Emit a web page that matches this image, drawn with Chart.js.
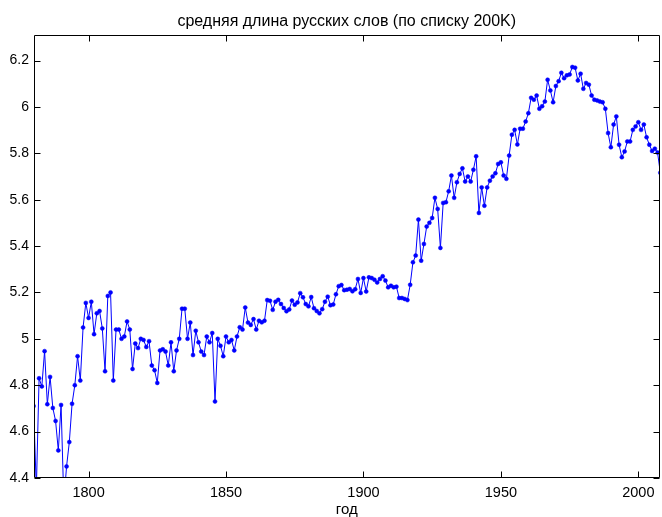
<!DOCTYPE html>
<html>
<head>
<meta charset="utf-8">
<script src="https://cdn.jsdelivr.net/npm/chart.js@4"></script>
<style>
html,body{margin:0;padding:0;background:#fff;}
#wrap{width:662px;height:517px;}
</style>
</head>
<body>
<div id="wrap"><canvas id="c" width="662" height="517"></canvas></div>
<script>
// ---- data ----
const years = [
  1780,1781,1782,1783,1784,1785,1786,1787,1788,1789,
  1790,1791,1792,1793,1794,1795,1796,1797,1798,1799,
  1800,1801,1802,1803,1804,1805,1806,1807,1808,1809,
  1810,1811,1812,1813,1814,1815,1816,1817,1818,1819,
  1820,1821,1822,1823,1824,1825,1826,1827,1828,1829,
  1830,1831,1832,1833,1834,1835,1836,1837,1838,1839,
  1840,1841,1842,1843,1844,1845,1846,1847,1848,1849,
  1850,1851,1852,1853,1854,1855,1856,1857,1858,1859,
  1860,1861,1862,1863,1864,1865,1866,1867,1868,1869,
  1870,1871,1872,1873,1874,1875,1876,1877,1878,1879,
  1880,1881,1882,1883,1884,1885,1886,1887,1888,1889,
  1890,1891,1892,1893,1894,1895,1896,1897,1898,1899,
  1900,1901,1902,1903,1904,1905,1906,1907,1908,1909,
  1910,1911,1912,1913,1914,1915,1916,1917,1918,1919,
  1920,1921,1922,1923,1924,1925,1926,1927,1928,1929,
  1930,1931,1932,1933,1934,1935,1936,1937,1938,1939,
  1940,1941,1942,1943,1944,1945,1946,1947,1948,1949,
  1950,1951,1952,1953,1954,1955,1956,1957,1958,1959,
  1960,1961,1962,1963,1964,1965,1966,1967,1968,1969,
  1970,1971,1972,1973,1974,1975,1976,1977,1978,1979,
  1980,1981,1982,1983,1984,1985,1986,1987,1988,1989,
  1990,1991,1992,1993,1994,1995,1996,1997,1998,1999,
  2000,2001,2002,2003,2004,2005,2006,2007,2008
];
const avgLength = [
  4.71,4.35,4.83,4.795,4.947,4.718,4.836,4.702,4.646,4.519,
  4.715,4.30,4.45,4.555,4.72,4.80,4.925,4.82,5.049,5.155,
  5.09,5.16,5.02,5.11,5.12,5.045,4.86,5.185,5.20,4.82,
  5.04,5.04,5.00,5.01,5.075,5.04,4.87,4.98,4.96,5.00,
  4.995,4.965,4.99,4.885,4.865,4.81,4.95,4.955,4.945,4.885,
  4.985,4.86,4.95,5.00,5.13,5.13,5.00,5.07,4.93,5.035,
  4.985,4.945,4.93,5.01,4.985,5.025,4.73,5.00,4.97,4.925,
  5.01,4.985,4.995,4.95,5.01,5.05,5.04,5.135,5.07,5.06,
  5.085,5.04,5.078,5.071,5.078,5.167,5.164,5.125,5.16,5.168,
  5.15,5.133,5.119,5.127,5.165,5.147,5.157,5.197,5.179,5.15,
  5.14,5.18,5.132,5.12,5.11,5.128,5.16,5.182,5.145,5.148,
  5.192,5.227,5.232,5.21,5.212,5.215,5.205,5.214,5.258,5.198,
  5.262,5.204,5.265,5.262,5.255,5.243,5.258,5.27,5.251,5.222,
  5.229,5.222,5.225,5.176,5.176,5.172,5.167,5.233,5.33,5.359,
  5.514,5.337,5.409,5.484,5.50,5.521,5.608,5.56,5.392,5.586,
  5.589,5.636,5.704,5.608,5.675,5.711,5.735,5.678,5.70,5.678,
  5.729,5.787,5.543,5.653,5.574,5.653,5.682,5.70,5.714,5.754,
  5.761,5.704,5.69,5.79,5.88,5.901,5.838,5.906,5.906,5.937,
  5.973,6.039,6.031,6.049,5.992,6.003,6.023,6.117,6.071,6.02,
  6.09,6.111,6.147,6.124,6.136,6.14,6.172,6.169,6.114,6.143,
  6.078,6.103,6.096,6.049,6.031,6.028,6.023,6.02,5.992,5.887,
  5.826,5.924,5.959,5.837,5.783,5.808,5.851,5.851,5.901,5.916,
  5.934,5.901,5.924,5.869,5.837,5.81,5.82,5.803,5.716
];
const xTickValues = [1800, 1850, 1900, 1950, 2000];
const yTickValues = [4.4, 4.6, 4.8, 5, 5.2, 5.4, 5.6, 5.8, 6, 6.2];
const xLimits = [1780.15, 2007.7];
const yLimits = [4.4, 6.31];
const chartTitle = 'средняя длина русских слов (по списку 200K)';
const xAxisTitle = 'год';

// ---- drawing ----
const FONT = '"Liberation Sans", Arial, Helvetica, sans-serif';
const TICK_LEN = 6;

const boxPlugin = {
  id: 'matlabBox',
  afterDraw(chart) {
    const {ctx, chartArea: a, scales} = chart;
    const L = Math.round(a.left) + 0.5, R = Math.round(a.right) - 0.5;
    const T = Math.round(a.top) + 0.5, B = Math.round(a.bottom) - 0.5;
    ctx.save();
    ctx.strokeStyle = '#000';
    ctx.lineWidth = 1;
    ctx.beginPath();
    ctx.rect(L, T, R - L, B - T);
    xTickValues.forEach(v => {
      const px = Math.round(scales.x.getPixelForValue(v)) + 0.5;
      ctx.moveTo(px, B); ctx.lineTo(px, B - TICK_LEN);
      ctx.moveTo(px, T); ctx.lineTo(px, T + TICK_LEN);
    });
    yTickValues.forEach(v => {
      const py = Math.round(scales.y.getPixelForValue(v)) + 0.5;
      ctx.moveTo(L, py); ctx.lineTo(L + TICK_LEN, py);
      ctx.moveTo(R, py); ctx.lineTo(R - TICK_LEN, py);
    });
    ctx.stroke();
    ctx.restore();
  }
};

new Chart(document.getElementById('c'), {
  type: 'line',
  data: {
    datasets: [{
      data: years.map((yr, i) => ({x: yr, y: avgLength[i]})),
      borderColor: '#0000ff',
      borderWidth: 1,
      pointRadius: 2,
      pointHoverRadius: 2,
      pointBackgroundColor: '#0000ff',
      pointBorderColor: '#0000ff',
      pointBorderWidth: 0.5,
      tension: 0,
      fill: false,
      clip: 0
    }]
  },
  options: {
    responsive: false,
    animation: false,
    devicePixelRatio: 1,
    events: [],
    layout: {padding: {left: 0, right: 1, top: 0, bottom: 0}},
    plugins: {
      legend: {display: false},
      tooltip: {enabled: false},
      title: {
        display: true,
        fullSize: false,
        text: chartTitle,
        color: '#000',
        font: {family: FONT, size: 16, weight: 'normal', lineHeight: 1.2},
        padding: {top: 12, bottom: 3.8}
      }
    },
    scales: {
      x: {
        type: 'linear',
        min: xLimits[0],
        max: xLimits[1],
        afterBuildTicks: s => { s.ticks = xTickValues.map(v => ({value: v})); },
        afterFit: s => { s.height = 39; },
        grid: {display: false, drawTicks: false},
        border: {display: false},
        ticks: {
          padding: 6, color: '#000', maxRotation: 0, autoSkip: false,
          font: {family: FONT, size: 14.5},
          callback: v => String(v)
        },
        title: {
          display: true, text: xAxisTitle, color: '#000',
          font: {family: FONT, size: 15, lineHeight: 1},
          padding: {top: 0, bottom: 0}
        }
      },
      y: {
        type: 'linear',
        min: yLimits[0],
        max: yLimits[1],
        afterBuildTicks: s => { s.ticks = yTickValues.map(v => ({value: v})); },
        afterFit: s => { s.width = 34; },
        grid: {display: false, drawTicks: false},
        border: {display: false},
        ticks: {
          padding: 5, color: '#000', autoSkip: false,
          font: {family: FONT, size: 14},
          callback: v => String(v)
        }
      }
    }
  },
  plugins: [boxPlugin]
});
</script>
</body>
</html>
